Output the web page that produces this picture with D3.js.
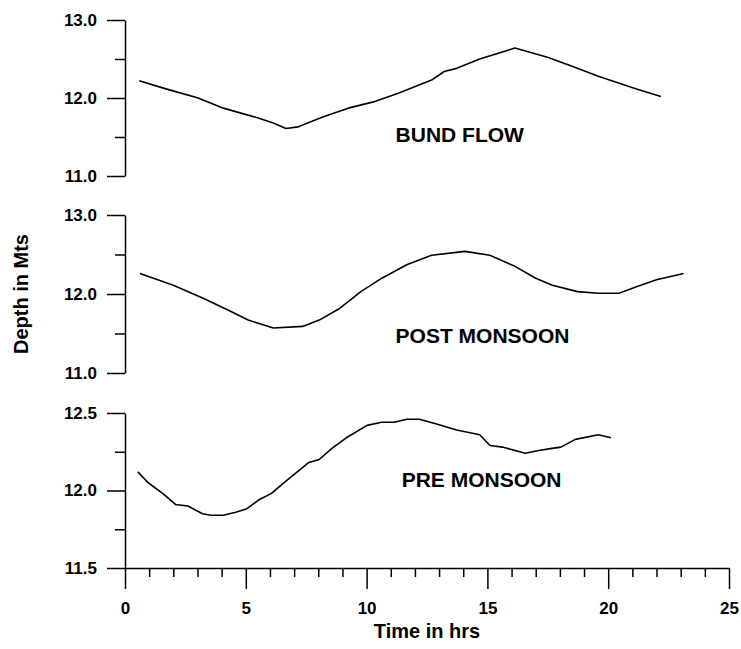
<!DOCTYPE html>
<html>
<head>
<meta charset="utf-8">
<script src="https://cdn.jsdelivr.net/npm/d3@7"></script>
<style>
body { margin: 0; background: #fff; }
svg { display: block; }
.axis text { font-family: "Liberation Sans", Arial, sans-serif; font-size: 17px; font-weight: bold; fill: #000; }
.axis path, .axis line { stroke: #000; stroke-width: 1.5; }
.label { font-family: "Liberation Sans", Arial, sans-serif; font-weight: bold; fill: #000; }
</style>
</head>
<body>
<script>
// time in hrs and depth in metres
var bundTime  = [0.59, 1.66, 3.03, 4.07, 5.45, 6.14, 6.66, 7.17, 8.21, 9.24, 10.28, 11.31, 12.69, 13.21, 13.73, 14.68, 16.14, 17.52, 18.56, 19.59, 21.14, 22.18]
var bundDepth = [12.22, 12.12, 12.00, 11.87, 11.75, 11.68, 11.61, 11.63, 11.76, 11.87, 11.95, 12.06, 12.23, 12.34, 12.38, 12.50, 12.64, 12.52, 12.40, 12.28, 12.12, 12.02]

var postTime  = [0.62, 2.0, 3.21, 4.24, 5.10, 6.14, 7.35, 8.04, 8.90, 9.76, 10.63, 11.66, 12.69, 14.07, 15.1, 16.14, 17.0, 17.69, 18.73, 19.59, 20.45, 21.14, 22.0, 23.12]
var postDepth = [12.26, 12.11, 11.95, 11.80, 11.67, 11.57, 11.59, 11.67, 11.82, 12.03, 12.20, 12.37, 12.49, 12.54, 12.49, 12.35, 12.20, 12.11, 12.03, 12.01, 12.01, 12.09, 12.18, 12.26]

var preTime  = [0.53, 0.96, 1.57, 2.09, 2.60, 3.21, 3.55, 4.07, 4.58, 5.02, 5.54, 6.05, 6.66, 7.60, 8.04, 8.55, 9.16, 10.02, 10.62, 11.14, 11.66, 12.18, 12.86, 13.73, 14.68, 15.11, 15.62, 16.57, 17.18, 17.61, 18.04, 18.64, 19.59, 20.11]
var preDepth = [12.12, 12.05, 11.98, 11.91, 11.90, 11.85, 11.84, 11.84, 11.86, 11.88, 11.94, 11.98, 12.06, 12.18, 12.20, 12.27, 12.34, 12.42, 12.44, 12.44, 12.46, 12.46, 12.43, 12.39, 12.36, 12.29, 12.28, 12.24, 12.26, 12.27, 12.28, 12.33, 12.36, 12.34]

// tick values
var xMajor = [0, 5, 10, 15, 20, 25]
var xMinor = [1, 2, 3, 4, 6, 7, 8, 9, 11, 12, 13, 14, 16, 17, 18, 19, 21, 22, 23, 24]
var depthMajor = [11, 12, 13]
var depthMinor = [11.5, 12.5]
var preMajor = [11.5, 12, 12.5]
var preMinor = [11.75, 12.25]

var width = 741
var height = 649

var svg = d3.select('body').append('svg')
    .attr('width', width)
    .attr('height', height)

var x = d3.scaleLinear().domain([0, 25]).range([125, 729])

// one entry per panel, top to bottom
var panels = [
    { time: bundTime, depth: bundDepth, dom: [11, 13], rng: [176, 20], major: depthMajor, minor: depthMinor, name: 'BUND FLOW', at: [11.2, 11.44] },
    { time: postTime, depth: postDepth, dom: [11, 13], rng: [373, 215], major: depthMajor, minor: depthMinor, name: 'POST MONSOON', at: [11.2, 11.38] },
    { time: preTime, depth: preDepth, dom: [11.5, 12.5], rng: [568, 413], major: preMajor, minor: preMinor, name: 'PRE MONSOON', at: [11.45, 12.02] }
]

panels.forEach(function (p) {
    var y = d3.scaleLinear().domain(p.dom).range(p.rng)

    svg.append('g')
        .attr('class', 'axis')
        .attr('transform', 'translate(125,0)')
        .call(d3.axisLeft(y).tickValues(p.major).tickSize(18).tickPadding(10).tickSizeOuter(0).tickFormat(d3.format('.1f')))

    svg.append('g')
        .attr('class', 'axis')
        .attr('transform', 'translate(125,0)')
        .call(d3.axisLeft(y).tickValues(p.minor).tickSize(10).tickFormat(''))
        .call(function (g) { g.select('.domain').remove() })

    var line = d3.line()
        .x(function (d, i) { return x(p.time[i]) })
        .y(function (d) { return y(d) })

    svg.append('path')
        .datum(p.depth)
        .attr('d', line)
        .attr('fill', 'none')
        .attr('stroke', '#000')
        .attr('stroke-width', 1.6)
        .attr('stroke-linejoin', 'round')

    svg.append('text')
        .attr('class', 'label')
        .attr('x', x(p.at[0]))
        .attr('y', y(p.at[1]))
        .style('font-size', '21px')
        .text(p.name)
})

// x axis under the last panel
svg.append('g')
    .attr('class', 'axis')
    .attr('transform', 'translate(0,568)')
    .call(d3.axisBottom(x).tickValues(xMajor).tickSize(21).tickPadding(13).tickSizeOuter(0))

svg.append('g')
    .attr('class', 'axis')
    .attr('transform', 'translate(0,568)')
    .call(d3.axisBottom(x).tickValues(xMinor).tickSize(9).tickFormat(''))
    .call(function (g) { g.select('.domain').remove() })

svg.append('text')
    .attr('class', 'label')
    .attr('x', 427)
    .attr('y', 638)
    .attr('text-anchor', 'middle')
    .style('font-size', '20px')
    .text('Time in hrs')

svg.append('text')
    .attr('class', 'label')
    .attr('transform', 'translate(28,294) rotate(-90)')
    .attr('text-anchor', 'middle')
    .style('font-size', '20px')
    .text('Depth in Mts')
</script>
</body>
</html>
